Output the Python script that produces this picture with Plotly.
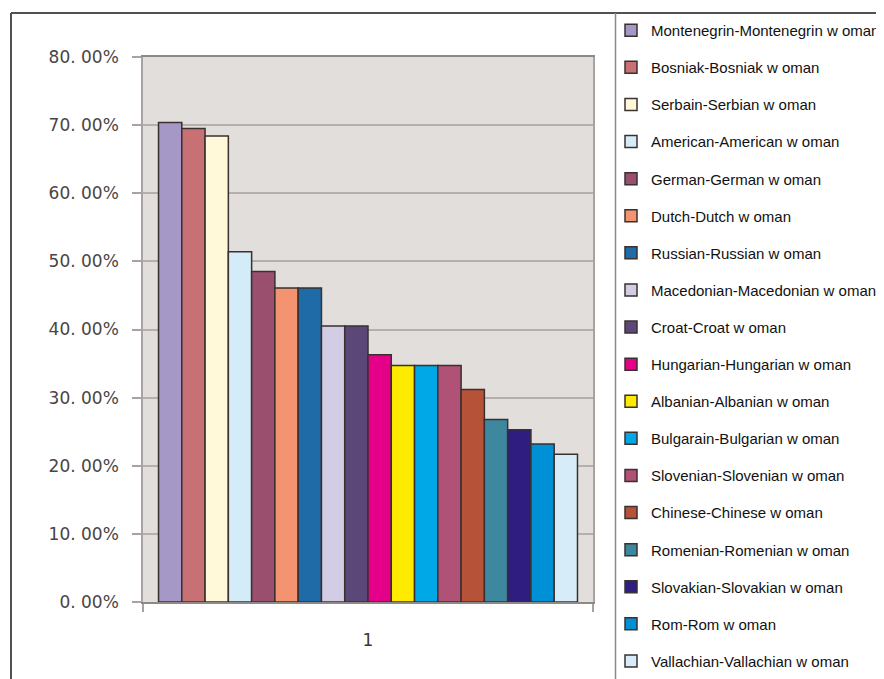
import plotly.graph_objects as go

names = [
    "Montenegrin-Montenegrin w oman", "Bosniak-Bosniak w oman", "Serbain-Serbian w oman",
    "American-American w oman", "German-German w oman", "Dutch-Dutch w oman",
    "Russian-Russian w oman", "Macedonian-Macedonian w oman", "Croat-Croat w oman",
    "Hungarian-Hungarian w oman", "Albanian-Albanian w oman", "Bulgarain-Bulgarian w oman",
    "Slovenian-Slovenian w oman", "Chinese-Chinese w oman", "Romenian-Romenian w oman",
    "Slovakian-Slovakian w oman", "Rom-Rom w oman", "Vallachian-Vallachian w oman",
]
values = [0.704, 0.695, 0.684, 0.514, 0.485, 0.461, 0.461, 0.405, 0.405,
          0.363, 0.347, 0.347, 0.347, 0.312, 0.268, 0.253, 0.232, 0.217]
colors = ["#A597C6", "#C87174", "#FFF9DA", "#D3ECF8", "#9B4F6E", "#F39370",
          "#1F6BA8", "#D2CCE5", "#5B4878", "#E5008A", "#FFEB00", "#00A8E7",
          "#B05176", "#B65237", "#3D879F", "#2F1D80", "#0090D5", "#D6EDF9"]
category = ["1"]
y_ticks = [0, 0.1, 0.2, 0.3, 0.4, 0.5, 0.6, 0.7, 0.8]
y_tick_labels = ["0. 00%", "10. 00%", "20. 00%", "30. 00%", "40. 00%",
                 "50. 00%", "60. 00%", "70. 00%", "80. 00%"]

fig = go.Figure()
for i, (n, v, c) in enumerate(zip(names, values, colors)):
    fig.add_trace(go.Bar(
        x=category, y=[v], name=n, legendgroup=f"g{i}",
        marker=dict(color=c, line=dict(color="#3a3030", width=1.5)),
    ))

# page has an 8px body margin; figure coordinates = page coordinates - 8
OFF = 8
W, H = 884 - OFF, 679 - OFF
L, R, T, B = 143 - OFF, 593 - OFF, 57 - OFF, 602 - OFF
def px_x(p):
    return (p - OFF - L) / (R - L)
def px_y(p):
    return (B - (p - OFF)) / (B - T)

fig.update_layout(
    width=W, height=H,
    margin=dict(l=L, r=W - R, t=T, b=H - B, autoexpand=False),
    paper_bgcolor="white",
    plot_bgcolor="#E2DEDB",
    barmode="group", bargap=0.069, bargroupgap=0,
    showlegend=True,
    legend=dict(
        x=px_x(611), y=px_y(14), xanchor="left", yanchor="top",
        font=dict(family="Liberation Sans, Arial, sans-serif", size=15, color="#111111"),
        traceorder="grouped", tracegroupgap=14.6,
        bgcolor="rgba(0,0,0,0)", maxheight=1.0,
    ),
    xaxis=dict(
        range=[-0.5, 0.5], tickson="boundaries", ticks="outside", ticklen=8,
        tickcolor="#A8A2A0", tickwidth=1.5,
        showline=True, linecolor="#8E8886", linewidth=1.5, mirror=True,
        showgrid=False,
        tickfont=dict(family="DejaVu Sans, sans-serif", size=17, color="#3a3434"),
        ticklabelstandoff=22,
    ),
    yaxis=dict(
        range=[0, 0.8], tickvals=y_ticks, ticktext=y_tick_labels,
        ticks="outside", ticklen=9, tickcolor="#A8A2A0", tickwidth=1.5,
        showline=True, linecolor="#A8A2A0", linewidth=1.5, mirror=True,
        showgrid=True, gridcolor="#B5AEAB", gridwidth=1.5,
        zeroline=False,
        tickfont=dict(family="DejaVu Sans, sans-serif", size=17, color="#4a4444"),
        ticklabelstandoff=10,
    ),
)

# decorative frame lines of the original screenshot
frame = dict(color="#555050", width=2)
fig.add_shape(type="line", xref="paper", yref="paper",
              x0=px_x(11), x1=px_x(884), y0=px_y(13), y1=px_y(13), line=frame)
fig.add_shape(type="line", xref="paper", yref="paper",
              x0=px_x(11), x1=px_x(11), y0=px_y(13), y1=px_y(679), line=frame)
fig.add_shape(type="line", xref="paper", yref="paper",
              x0=px_x(615.5), x1=px_x(615.5), y0=px_y(13), y1=px_y(679),
              line=dict(color="#8E8886", width=1.5))

fig.write_html("out.html")
